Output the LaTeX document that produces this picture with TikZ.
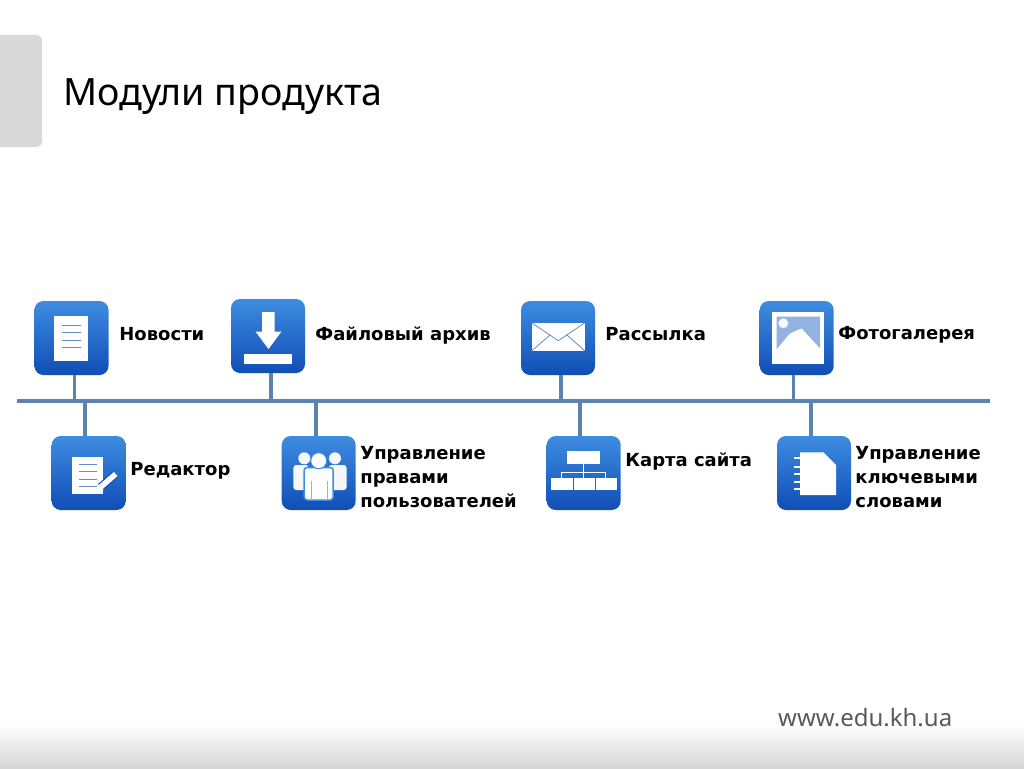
\documentclass[tikz,border=0pt]{standalone}
\usepackage{fontspec}
\setmainfont{Noto Sans}
\newfontfamily\modfont{DejaVu Sans}
\usetikzlibrary{positioning}
\definecolor{mybluetop}{RGB}{62, 140, 224}
\definecolor{mybluebot}{RGB}{16, 78, 182}
\definecolor{myline}{RGB}{92, 130, 176}
\definecolor{myglyph}{RGB}{104, 140, 196}
\definecolor{mysky}{RGB}{146, 178, 226}
\tikzset{
    iconbox/.style={minimum size=74pt, inner sep=0pt, rounded corners=9pt, top color=mybluetop, bottom color=mybluebot},
    modlabel/.style={inner sep=0pt, align=left, font=\fontsize{18}{24}\modfont\bfseries\selectfont},
    busline/.style={myline, line width=3.4pt},
    pageline/.style={myglyph, line width=1pt}
}

\begin{document}
\begin{tikzpicture}[x=1pt, y=-1pt]
    \useasboundingbox (0,0) rectangle (1024,768);
    \shade[top color=white, bottom color=black!16] (0,724) rectangle (1024,768);
    \fill[black!15] (0,35) {[rounded corners=5pt] -- (42,35) -- (42,147)} -- (0,147) -- cycle;
    \node[anchor=west, inner sep=0pt, font=\fontsize{37.6}{44}\selectfont] (title) at (63,97) {Модули продукта};
    \node[anchor=west, inner sep=0pt, text=black!65, font=\fontsize{24}{28}\selectfont] (site) at (778,718) {www.edu.kh.ua};

    % --- Icons ---
    \node[iconbox] (news) at (71.5,338) {};
    \node[iconbox] (files) at (268,336) {};
    \node[iconbox] (mail) at (558,338) {};
    \node[iconbox] (photo) at (796.7,338) {};
    \node[iconbox] (editor) at (88.7,473) {};
    \node[iconbox] (rights) at (318.7,473) {};
    \node[iconbox] (sitemap) at (583.7,473) {};
    \node[iconbox] (keywords) at (814,473) {};

    % --- Labels ---
    \node[modlabel, right=10.5pt of news, yshift=4pt] (newstext) {Новости};
    \node[modlabel, right=10pt of files, yshift=1pt] (filestext) {Файловый архив};
    \node[modlabel, right=10pt of mail, yshift=4pt] (mailtext) {Рассылка};
    \node[modlabel, right=4.3pt of photo, yshift=3pt] (phototext) {Фотогалерея};
    \node[modlabel, right=4.3pt of editor, yshift=2pt] (editortext) {Редактор};
    \node[modlabel, right=4.3pt of rights, yshift=-4pt] (rightstext) {Управление\\правами\\пользователей};
    \node[modlabel, right=4.3pt of sitemap, yshift=12pt] (sitemaptext) {Карта сайта};
    \node[modlabel, right=4pt of keywords, yshift=-4pt] (keywordstext) {Управление\\ключевыми\\словами};

    % --- Bus ---
    \coordinate (busleft) at (17,401);
    \coordinate (busright) at (990,401);
    \draw[busline] (busleft) -- (busright);
    \coordinate (jnews) at (74.5,401);
    \coordinate (jfiles) at (271,401);
    \coordinate (jmail) at (561,401);
    \coordinate (jphoto) at (793.5,401);
    \coordinate (jeditor) at (85,401);
    \coordinate (jrights) at (316,401);
    \coordinate (jsitemap) at (580,401);
    \coordinate (jkeywords) at (811,401);
    \foreach \j/\i in {jnews/news, jfiles/files, jmail/mail, jphoto/photo}
        \draw[busline] (\j) -- (\j |- \i.south);
    \foreach \j/\i in {jeditor/editor, jrights/rights, jsitemap/sitemap, jkeywords/keywords}
        \draw[busline] (\j) -- (\j |- \i.north);

    % --- News ---
    \begin{scope}[shift={(71.5,338)}]
        \fill[white] (-17.5,-22) rectangle (16,23);
        \foreach \y in {-13,-5.3,2,9.3}
            \draw[pageline] (-10,\y) -- (9,\y);
    \end{scope}

    % --- Download ---
    \begin{scope}[shift={(268,336)}]
        \fill[white] (-6,-24) -- (6.5,-24) -- (6.5,-4.5) -- (13.5,-4.5) -- (0.5,13) -- (-12.5,-4.5) -- (-6,-4.5) -- cycle;
        \fill[white] (-24,17.5) rectangle (24,28);
    \end{scope}

    % --- Envelope ---
    \begin{scope}[shift={(558,338)}]
        \fill[white] (-26.5,-15.3) rectangle (27,13);
        \draw[myglyph, thick] (-26.5,-15.3) -- (0.3,2.7) -- (27,-15.3);
        \draw[myglyph, thick] (-26.5,13) -- (-8,-3);
        \draw[myglyph, thick] (27,13) -- (9,-3);
    \end{scope}

    % --- Picture ---
    \begin{scope}[shift={(796.7,338)}]
        \fill[white] (-24.7,-26) rectangle (27.3,26);
        \fill[mysky] (-20,-21.3) -- (23.3,-21.3) -- (23.3,10.3) -- (5,-9.7) -- (-6.7,-4.7) -- (-20,11) -- cycle;
        \fill[white!90!mysky] (-13.4,-14.7) circle (5);
    \end{scope}

    % --- Page with pencil ---
    \begin{scope}[shift={(88.7,473)}]
        \fill[white] (-16.4,-16.3) rectangle (14,21);
        \foreach \y in {-9,-1.3,6,13.7}
            \draw[pageline] (-9.4,\y) -- (8,\y);
        \draw[mybluebot, line width=8pt] (12,14) -- (27,1);
        \draw[white, line width=5.6pt] (12,14) -- (27,1);
        \fill[white] (10,12) -- (7.5,20) -- (15,17) -- cycle;
    \end{scope}

    % --- People ---
    \begin{scope}[shift={(318.7,473)}]
        \fill[white!90!mysky, rounded corners=3pt] (-25.4,-8) rectangle (-10,17);
        \fill[white!90!mysky, rounded corners=3pt] (10,-8) rectangle (28,17);
        \fill[white!90!mysky] (-14.4,-14.7) circle (6);
        \fill[white!90!mysky] (16.3,-14.7) circle (6);
        \draw[mybluetop, line width=1.5pt, fill=white, rounded corners=3pt] (-14.5,-5.5) rectangle (14.5,27);
        \draw[mybluetop, line width=1pt, fill=white] (0,-12.3) circle (8);
        \draw[mysky] (-8,8) -- (-8,27);
        \draw[mysky] (8,8) -- (8,27);
    \end{scope}

    % --- Site map ---
    \begin{scope}[shift={(583.7,473)}]
        \fill[white] (-16.4,-22) rectangle (16.3,-9);
        \foreach \x/\w in {-32.7/-11, -10/11.3, 12.3/33}
            \fill[white] (\x,5.3) rectangle (\w,17);
        \draw[white, line width=1.5pt] (0,-9) -- (0,-0.7);
        \draw[white, line width=1.5pt] (-22,5.3) -- (-22,-0.7) -- (22,-0.7) -- (22,5.3);
        \draw[white, line width=1.5pt] (0,-0.7) -- (0,5.3);
    \end{scope}

    % --- Notebook ---
    \begin{scope}[shift={(814,473)}]
        \fill[white] (-14,-20.7) -- (9.3,-20.7) -- (22,-8) -- (22,22) -- (-14,22) -- cycle;
        \foreach \y in {-14.7,-6.3,1.3,8.7,16.3}
            \draw[white, line width=2pt] (-20,\y) -- (-14,\y);
    \end{scope}
\end{tikzpicture}
\end{document}
